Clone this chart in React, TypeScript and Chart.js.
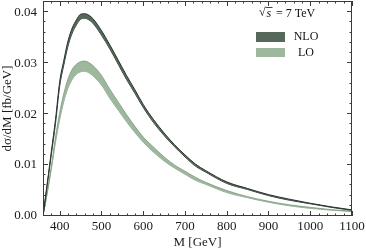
import React, { useEffect, useRef } from 'react';
import Chart from 'chart.js/auto';

// Invariant mass M [GeV]
const massGeV = [360, 370, 380, 390, 400, 410, 420, 430, 440, 450, 460, 470, 480, 500, 520, 540, 560, 580, 600, 625, 650, 675, 700, 725, 750, 800, 850, 900, 950, 1000, 1050, 1100];

// NLO band (upper / lower edge) dσ/dM [fb/GeV]
const nloHigh = [0, 0.0063, 0.0127, 0.0190, 0.0264, 0.0306, 0.0344, 0.0369, 0.0385, 0.0396, 0.0397, 0.0394, 0.0387, 0.0364, 0.0336, 0.0306, 0.0276, 0.0248, 0.0219, 0.0189, 0.0163, 0.0140, 0.0120, 0.0102, 0.0089, 0.0067, 0.0054, 0.0042, 0.0033, 0.0025, 0.0018, 0.0012];
const nloLow = [0, 0.0060, 0.0121, 0.0182, 0.0255, 0.0297, 0.0334, 0.0359, 0.0375, 0.0386, 0.0388, 0.0385, 0.0378, 0.0355, 0.0328, 0.0298, 0.0268, 0.0241, 0.0213, 0.0183, 0.0158, 0.0136, 0.0116, 0.0098, 0.0086, 0.0064, 0.0052, 0.0040, 0.0031, 0.0024, 0.0017, 0.0011];

// LO band (upper / lower edge)
const loHigh = [0, 0.0046, 0.0098, 0.0155, 0.0203, 0.0241, 0.0269, 0.0288, 0.0298, 0.0303, 0.0304, 0.0301, 0.0295, 0.0276, 0.0249, 0.0224, 0.0199, 0.0176, 0.0155, 0.0135, 0.0116, 0.0100, 0.0088, 0.0076, 0.0066, 0.0050, 0.0038, 0.0029, 0.0022, 0.0017, 0.00125, 0.00094];
const loLow = [0, 0.0044, 0.0092, 0.0145, 0.0189, 0.0225, 0.0251, 0.0268, 0.0278, 0.0283, 0.0284, 0.0281, 0.0275, 0.0257, 0.0231, 0.0208, 0.0185, 0.0164, 0.0145, 0.0125, 0.0108, 0.0094, 0.0082, 0.0070, 0.0062, 0.0046, 0.0036, 0.0027, 0.0020, 0.0015, 0.00115, 0.00086];

const xTickValues = [400, 500, 600, 700, 800, 900, 1000, 1100];
const yTickValues = [0, 0.01, 0.02, 0.03, 0.04];
const xRange = [360, 1100];
const yRange = [0, 0.0422];
const xMinorStep = 20;
const yMinorStep = 0.002;

const seriesNames = ['NLO', 'LO'];
const energyLabel = '7 TeV';

const SERIF = "'Liberation Serif', 'DejaVu Serif', serif";
const NLO_FILL = '#56685a';
const NLO_EDGE = '#2a352c';
const LO_FILL = '#9db89d';
const LO_EDGE = '#7c987e';

const framePlugin = {
  id: 'frameTicks',
  afterDatasetsDraw(chart: any) {
    const { ctx, chartArea, scales } = chart;
    const { left, right, top, bottom } = chartArea;
    const x = scales.x;
    const y = scales.y;
    ctx.save();
    ctx.strokeStyle = '#3a3a3a';
    ctx.lineWidth = 1;
    ctx.beginPath();
    ctx.rect(Math.round(left) + 0.5, Math.round(top) + 0.5, Math.round(right - left) - 1, Math.round(bottom - top) - 1);
    ctx.stroke();
    ctx.beginPath();
    for (let v = xRange[0]; v <= xRange[1] + 1e-9; v += xMinorStep) {
      const px = Math.round(x.getPixelForValue(v)) + 0.5;
      const major = Math.abs(v % 100) < 1e-6;
      const len = major ? 5 : 2.5;
      ctx.moveTo(px, bottom);
      ctx.lineTo(px, bottom - len);
      ctx.moveTo(px, top);
      ctx.lineTo(px, top + len);
    }
    for (let k = 0; k * yMinorStep <= yRange[1] + 1e-9; k++) {
      const v = k * yMinorStep;
      const py = Math.round(y.getPixelForValue(v)) - 0.5;
      const major = k % 5 === 0;
      const len = major ? 5 : 2.5;
      ctx.moveTo(left, py);
      ctx.lineTo(left + len, py);
      ctx.moveTo(right, py);
      ctx.lineTo(right - len, py);
    }
    ctx.stroke();

    // legend
    ctx.fillStyle = '#111';
    ctx.textBaseline = 'middle';
    ctx.font = `12px ${SERIF}`;
    ctx.fillText('\u221A', 259, 13);
    ctx.font = `italic 12px ${SERIF}`;
    ctx.fillText('s', 266.5, 14);
    ctx.beginPath();
    ctx.lineWidth = 0.8;
    ctx.strokeStyle = '#111';
    ctx.moveTo(265.5, 7.5);
    ctx.lineTo(272.5, 7.5);
    ctx.stroke();
    ctx.font = `12px ${SERIF}`;
    ctx.fillText('= ' + energyLabel, 276, 14);

    ctx.fillStyle = NLO_FILL;
    ctx.fillRect(256, 32, 29, 10);
    ctx.fillStyle = LO_FILL;
    ctx.fillRect(256, 48, 29, 9);
    ctx.fillStyle = '#111';
    ctx.font = `12px ${SERIF}`;
    ctx.textAlign = 'center';
    ctx.fillText(seriesNames[0], 306, 37);
    ctx.fillText(seriesNames[1], 306, 53);
    ctx.restore();
  },
};

export default function App() {
  const canvasRef = useRef<HTMLCanvasElement | null>(null);

  useEffect(() => {
    document.body.style.margin = '0';
    const canvas = canvasRef.current;
    if (!canvas) return;
    const pts = (arr: number[]) => massGeV.map((m, i) => ({ x: m, y: arr[i] }));
    const tickFont = { family: SERIF, size: 13 };
    const chart = new Chart(canvas, {
      type: 'line',
      data: {
        datasets: [
          { label: 'NLO high', data: pts(nloHigh), fill: '+1', backgroundColor: NLO_FILL, borderColor: NLO_EDGE, borderWidth: 1 },
          { label: 'NLO low', data: pts(nloLow), fill: false, borderColor: NLO_EDGE, borderWidth: 1 },
          { label: 'LO high', data: pts(loHigh), fill: '+1', backgroundColor: LO_FILL, borderColor: LO_EDGE, borderWidth: 0.8 },
          { label: 'LO low', data: pts(loLow), fill: false, borderColor: LO_EDGE, borderWidth: 0.8 },
        ],
      },
      options: {
        animation: false,
        responsive: false,
        layout: { padding: { top: 1, right: 14, left: 0, bottom: 0 } },
        elements: { point: { radius: 0 }, line: { cubicInterpolationMode: 'monotone' } },
        plugins: { legend: { display: false }, tooltip: { enabled: false } },
        scales: {
          x: {
            type: 'linear',
            min: xRange[0],
            max: xRange[1],
            afterBuildTicks: (s: any) => { s.ticks = xTickValues.map((v) => ({ value: v })); },
            afterFit: (s: any) => { s.height = 34; s.paddingLeft = 0; s.paddingRight = 0; },
            grid: { display: false, drawTicks: false },
            border: { display: false },
            ticks: { font: tickFont, color: '#1a1a1a', padding: 3, maxRotation: 0, autoSkip: false, callback: (v: any) => String(v) },
            title: { display: true, text: 'M [GeV]', font: tickFont, color: '#1a1a1a', padding: 0 },
          },
          y: {
            type: 'linear',
            min: yRange[0],
            max: yRange[1],
            afterBuildTicks: (s: any) => { s.ticks = yTickValues.map((v) => ({ value: v })); },
            afterFit: (s: any) => { s.width = 43; s.paddingTop = 0; s.paddingBottom = 0; },
            grid: { display: false, drawTicks: false },
            border: { display: false },
            ticks: { font: tickFont, color: '#1a1a1a', padding: 6, autoSkip: false, callback: (v: any) => Number(v).toFixed(2) },
            title: { display: true, text: 'dσ/dM [fb/GeV]', font: tickFont, color: '#1a1a1a', padding: 0 },
          },
        },
      },
      plugins: [framePlugin],
    } as any);
    return () => chart.destroy();
  }, []);

  return (
    <div style={{ width: 366, height: 250 }}>
      <canvas ref={canvasRef} width={366} height={250} />
    </div>
  );
}
